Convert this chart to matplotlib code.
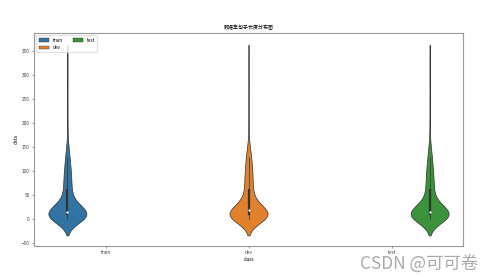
import matplotlib
matplotlib.use("Agg")
import matplotlib.pyplot as plt
from matplotlib.patches import Patch
import seaborn as sns
import pandas as pd
import numpy as np

plt.rcParams['font.family'] = ['Noto Sans CJK SC', 'DejaVu Sans']

# ---- 数据：各数据集句子长度（按长度分段的样本数，从图中估计） ----
classes = ["train", "dev", "test"]
colors = ["#1f77b4", "#ff7f0e", "#2ca02c"]

lengths = [0, 5, 10, 15, 20, 30, 40, 50, 60, 70, 80, 90, 100, 110, 120, 130, 140,
           150, 170, 200, 240, 290, 330]
train_cnt = [16, 24, 24, 18, 14, 10, 7, 5, 5, 5, 5, 5, 4, 4, 3, 3, 2, 2, 1, 1, 1, 1, 1]
dev_cnt = [16, 24, 24, 18, 14, 10, 7, 6, 5, 5, 5, 5, 5, 4, 4, 3, 3, 2, 1, 1, 1, 1, 1]
test_cnt = [16, 24, 24, 18, 14, 10, 7, 5, 5, 5, 5, 5, 4, 4, 3, 3, 2, 2, 1, 1, 1, 1, 1]

yticks = [-50, 0, 50, 100, 150, 200, 250, 300, 350]

frames = []
for name, cnt in zip(classes, [train_cnt, dev_cnt, test_cnt]):
    vals = np.repeat(lengths, cnt)
    frames.append(pd.DataFrame({"class": name, "data": vals}))
df = pd.concat(frames, ignore_index=True)

fig = plt.figure(figsize=(4.95, 2.77), dpi=100)
ax = fig.add_axes([0.0687, 0.112, 0.8667, 0.769])

sns.violinplot(data=df, x="class", y="data", hue="class", order=classes,
               hue_order=classes, palette=colors, dodge=True, ax=ax, width=0.8,
               linewidth=0.5, linecolor="#333333", bw_adjust=0.85, saturation=0.75,
               inner="box", inner_kws=dict(box_width=1.6, whis_width=0.5, marker="o"),
               legend=False)

ax.set_ylim(-55.6, 388)
ax.set_yticks(yticks)
ax.set_title("数据集句子长度分布图", fontsize=3.6, pad=3)
ax.set_xlabel("class", fontsize=3.4, labelpad=1.5)
ax.set_ylabel("data", fontsize=3.4, labelpad=2)
ax.tick_params(labelsize=3.4, length=1.5, width=0.4, pad=1.5, colors="#444444")
for s in ax.spines.values():
    s.set_color("#999999")
    s.set_linewidth(0.8)

handles = [Patch(facecolor=sns.desaturate(c, 0.75), edgecolor="#333333", linewidth=0.3)
           for c in colors]
ax.legend(handles, classes, loc="upper left", ncol=2, fontsize=3.4, handlelength=2.2,
          handleheight=0.8, columnspacing=2.0, borderpad=0.5, framealpha=0.8,
          edgecolor="#dddddd")

fig.text(0.966, 0.03, "CSDN @可可卷", fontsize=12.5, color="#aaaaaa", ha="right",
         va="baseline")

fig.savefig("out.png", dpi=100)
